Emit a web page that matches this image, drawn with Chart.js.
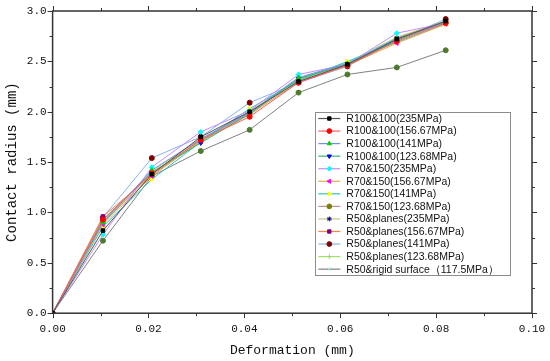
<!DOCTYPE html>
<html lang="en">
<head>
<meta charset="UTF-8">
<title>Contact radius vs deformation</title>
<script src="https://cdn.jsdelivr.net/npm/chart.js@4.4.0/dist/chart.umd.min.js"></script>
<style>
  html, body { margin: 0; padding: 0; background: #fff; }
</style>
</head>
<body>
<canvas id="myChart" width="550" height="361"></canvas>
<script>
// deformation (mm) at each load step
const deformation = [0, 0.0105, 0.0207, 0.0309, 0.0411, 0.0513, 0.0615, 0.0718, 0.082];

// contact radius (mm)
const r100_235    = [0, 0.82, 1.38, 1.75, 2.00, 2.30, 2.47, 2.72, 2.90];
const r100_15667  = [0, 0.93, 1.39, 1.72, 1.95, 2.29, 2.46, 2.70, 2.88];
const r100_141    = [0, 0.90, 1.42, 1.73, 1.99, 2.34, 2.48, 2.73, 2.88];
const r100_12368  = [0, 0.92, 1.40, 1.69, 1.98, 2.33, 2.47, 2.71, 2.89];
const r70_235     = [0, 0.78, 1.45, 1.80, 2.01, 2.37, 2.47, 2.78, 2.88];
const r70_15667   = [0, 0.88, 1.36, 1.71, 1.97, 2.30, 2.46, 2.68, 2.87];
const r70_141     = [0, 0.86, 1.33, 1.70, 2.03, 2.31, 2.50, 2.69, 2.87];
const r70_12368   = [0, 0.90, 1.37, 1.72, 1.98, 2.29, 2.46, 2.72, 2.89];
const r50p_235    = [0, 0.91, 1.39, 1.70, 1.99, 2.31, 2.48, 2.72, 2.90];
const r50p_15667  = [0, 0.96, 1.37, 1.72, 2.00, 2.32, 2.47, 2.73, 2.90];
const r50p_141    = [0, 0.95, 1.54, 1.75, 2.09, 2.29, 2.45, 2.71, 2.92];
const r50p_12368  = [0, 0.89, 1.41, 1.73, 2.00, 2.33, 2.49, 2.74, 2.90];
const r50_rigid   = [0, 0.72, 1.36, 1.61, 1.82, 2.19, 2.37, 2.44, 2.61];

const seriesLabels = [
  'R100&100(235MPa)', 'R100&100(156.67MPa)', 'R100&100(141MPa)', 'R100&100(123.68MPa)',
  'R70&150(235MPa)', 'R70&150(156.67MPa)', 'R70&150(141MPa)', 'R70&150(123.68MPa)',
  'R50&planes(235MPa)', 'R50&planes(156.67MPa)', 'R50&planes(141MPa)', 'R50&planes(123.68MPa)',
  'R50&rigid surface（117.5MPa）'
];
const seriesValues = [r100_235, r100_15667, r100_141, r100_12368, r70_235, r70_15667, r70_141,
  r70_12368, r50p_235, r50p_15667, r50p_141, r50p_12368, r50_rigid];

const xTicks = [0, 0.02, 0.04, 0.06, 0.08, 0.10];
const yTicks = [0, 0.5, 1.0, 1.5, 2.0, 2.5, 3.0];

// line colour, marker colour, marker style, rotation
const styles = [
  ['#555555', '#000000', 'rect', 0],
  ['#ff5a5a', '#ff0000', 'circle', 0],
  ['#6a96ee', '#00d000', 'triangle', 0],
  ['#3cb371', '#0000ff', 'triangle', 180],
  ['#c58cff', '#00ffff', 'rectRot', 0],
  ['#e3b14a', '#ff00ff', 'triangle', -90],
  ['#2cc4c4', '#ffff00', 'triangle', 90],
  ['#c09494', '#808000', 'circle', 0],
  ['#c8c884', '#000080', 'star', 0],
  ['#ff8040', '#800080', 'rect', 0],
  ['#86b4ea', '#800000', 'circle', 0],
  ['#a6e06a', '#90e060', 'cross', 0],
  ['#808080', '#4d7a2c', 'circle', 0]
];
// the rigid-surface entry shows a different marker in the key
const legendOverride = { 12: ['crossRot', '#a8e4e4'] };

const datasets = seriesValues.map((vals, i) => ({
  label: seriesLabels[i],
  data: vals.map((v, k) => ({ x: deformation[k], y: v })),
  borderColor: styles[i][0],
  backgroundColor: styles[i][1],
  pointBorderColor: styles[i][1],
  pointBackgroundColor: styles[i][1],
  pointStyle: styles[i][2],
  pointRotation: styles[i][3],
  pointRadius: 2.5,
  borderWidth: 1,
  pointBorderWidth: 1,
  tension: 0
}));

const axisFont = { family: 'Liberation Mono', size: 11 };

const framePlugin = {
  id: 'frame',
  afterDatasetsDraw(chart) {
    const { ctx, chartArea: a, scales: { x, y } } = chart;
    ctx.save();
    ctx.strokeStyle = '#333';
    ctx.lineWidth = 1;
    const seg = (x1, y1, x2, y2) => { ctx.beginPath(); ctx.moveTo(x1, y1); ctx.lineTo(x2, y2); ctx.stroke(); };
    for (let k = 0; k <= 10; k++) {
      const px = Math.round(x.getPixelForValue(k * 0.01)) + 0.5;
      const len = k % 2 === 0 ? 5 : 3;
      seg(px, a.bottom, px, a.bottom + len);
      seg(px, a.top, px, a.top - len);
    }
    for (let k = 0; k <= 12; k++) {
      const py = Math.round(y.getPixelForValue(k * 0.25)) + 0.5;
      const len = k % 2 === 0 ? 5 : 3;
      seg(a.left, py, a.left - len, py);
      seg(a.right, py, a.right + len, py);
    }
    ctx.lineWidth = 1.5;
    ctx.strokeRect(a.left, a.top, a.right - a.left, a.bottom - a.top);
    ctx.restore();
  }
};

const keyPlugin = {
  id: 'key',
  afterDraw(chart) {
    const { ctx, chartArea: a } = chart;
    const w = a.right - a.left, h = a.bottom - a.top;
    const left = a.left + w * 0.548, right = a.left + w * 0.955;
    const top = a.top + h * 0.335, bottom = a.top + h * 0.875;
    const rowH = (bottom - top) / chart.data.datasets.length;
    ctx.save();
    ctx.fillStyle = '#fff';
    ctx.fillRect(left, top, right - left, bottom - top);
    ctx.strokeStyle = '#8c8c8c';
    ctx.lineWidth = 1;
    ctx.strokeRect(Math.round(left) + 0.5, Math.round(top) + 0.5, Math.round(right - left), Math.round(bottom - top));
    ctx.font = '10.5px "Liberation Sans", Arial, sans-serif';
    ctx.textBaseline = 'middle';
    chart.data.datasets.forEach((ds, i) => {
      const cy = top + rowH * (i + 0.5);
      ctx.strokeStyle = ds.borderColor;
      ctx.lineWidth = 1.2;
      ctx.beginPath(); ctx.moveTo(left + 3, cy); ctx.lineTo(left + 25, cy); ctx.stroke();
      let ps = ds.pointStyle, col = ds.pointBackgroundColor;
      if (legendOverride[i]) { ps = legendOverride[i][0]; col = legendOverride[i][1]; }
      ctx.fillStyle = col; ctx.strokeStyle = col; ctx.lineWidth = 1;
      Chart.helpers.drawPoint(ctx, { pointStyle: ps, radius: 2.4, rotation: ds.pointRotation, borderWidth: 1 }, left + 14, cy);
      ctx.fillStyle = '#111';
      ctx.fillText(ds.label, left + 31, cy + 0.5);
    });
    ctx.restore();
  }
};

new Chart(document.getElementById('myChart'), {
  type: 'line',
  data: { datasets },
  options: {
    responsive: false,
    animation: false,
    layout: { padding: { left: 4, right: 18, top: 11, bottom: 0 } },
    plugins: { legend: { display: false }, tooltip: { enabled: false } },
    scales: {
      x: {
        type: 'linear', min: 0, max: 0.1,
        afterBuildTicks: s => { s.ticks = xTicks.map(v => ({ value: v })); },
        afterFit: s => { s.paddingRight = 0; },
        ticks: { font: axisFont, color: '#111', padding: 9, callback: v => v.toFixed(2) },
        grid: { display: false, drawTicks: false },
        border: { display: false },
        title: { display: true, text: 'Deformation (mm)', font: { family: 'Liberation Mono', size: 13 }, color: '#111', padding: { top: -2, bottom: 3 } }
      },
      y: {
        min: 0, max: 3,
        afterBuildTicks: s => { s.ticks = yTicks.map(v => ({ value: v })); },
        afterFit: s => { s.paddingTop = 0; },
        ticks: { font: axisFont, color: '#111', padding: 6, callback: v => v.toFixed(1) },
        grid: { display: false, drawTicks: false },
        border: { display: false },
        title: { display: true, text: 'Contact radius (mm)', font: { family: 'Liberation Mono', size: 14 }, color: '#111', padding: { top: 0, bottom: 0 } }
      }
    }
  },
  plugins: [framePlugin, keyPlugin]
});
</script>
</body>
</html>
